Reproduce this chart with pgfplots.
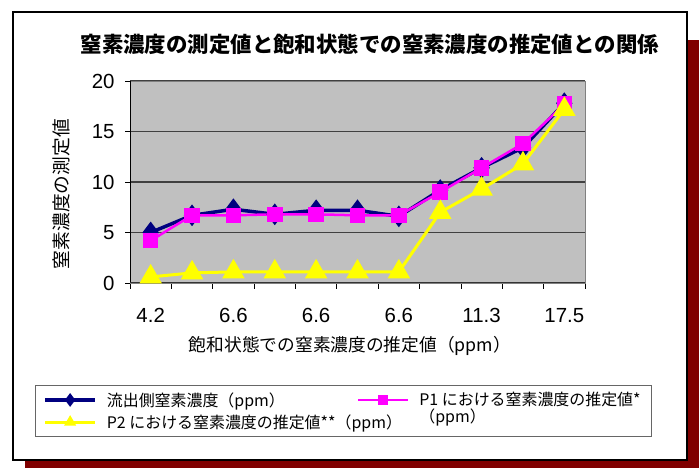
\documentclass[border=0pt]{standalone}
\usepackage{pgfplots}
\pgfplotsset{compat=1.18}
\usepackage{fontspec}
\setmainfont{Liberation Sans}
\newfontfamily\cjk{Noto Sans CJK JP}
\definecolor{navyc}{RGB}{0,0,128}
\definecolor{magc}{RGB}{255,0,255}
\definecolor{yelc}{RGB}{255,255,0}
\definecolor{bggray}{RGB}{192,192,192}
\definecolor{shadowc}{RGB}{128,0,0}
\begin{document}
\begin{tikzpicture}[x=1bp,y=1bp]
\path[use as bounding box] (0,0) rectangle (699,468);
\fill[shadowc] (25,0) rectangle (699,428);
\filldraw[fill=white, draw=black, line width=2bp] (13,8) rectangle (687,456);
\begin{axis}[
  at={(130bp,185bp)}, anchor=south west,
  width=455bp, height=202bp, scale only axis,
  xmin=-0.5, xmax=10.5, ymin=0, ymax=20,
  axis background/.style={fill=bggray},
  axis line style={black!50, line width=0.8bp},
  xtick={0,2,...,10},
  xticklabels={4.2,6.6,6.6,6.6,11.3,17.5},
  minor xtick={-0.5,0.5,...,10.5},
  every major x tick/.append style={draw=none},
  ytick={0,5,...,20},
  tick pos=left, tick align=outside,
  major tick length=5bp, minor tick length=6bp,
  tick style={black, line width=0.8bp},
  ymajorgrids, major grid style={black!75, line width=1.2bp},
  tick label style={font=\fontsize{20.5}{21}\selectfont},
  /pgf/number format/assume math mode=true,
  xticklabel style={yshift=-17bp},
  yticklabel style={xshift=-7bp},
  title={\cjk\bfseries 窒素濃度の測定値と飽和状態での窒素濃度の推定値との関係},
  title style={at={(axis description cs:0.527,1.15)}, anchor=center, font=\fontsize{21.5}{23}\selectfont},
  xlabel={\cjk 飽和状態での窒素濃度の推定値（ppm）},
  xlabel style={at={(axis description cs:0.4835,-0.31)}, anchor=center, font=\fontsize{17.8}{19}\selectfont},
  ylabel={\cjk 窒素濃度の測定値},
  ylabel style={at={(axis description cs:-0.15,0.44)}, anchor=center, font=\fontsize{18.8}{20}\selectfont},
  legend columns=2,
  legend cell align=left,
  legend style={at={(axis description cs:-0.2088,-0.505)}, anchor=north west,
    draw=black!60, line width=0.8bp, fill=white,
    font=\cjk\fontsize{16}{18}\selectfont,
    inner xsep=8bp, inner ysep=5bp, /tikz/row sep=3bp,
    /tikz/every even column/.append style={column sep=6bp}},
  legend image code/.code={\draw[mark repeat=2,mark phase=2,#1,mark size=4bp] plot coordinates {(0bp,0bp) (25bp,0bp) (50bp,0bp)};},
]
\draw[black, line width=1.2bp] (rel axis cs:0,0) -- (rel axis cs:0,1);
\draw[black!80, line width=1.2bp] (rel axis cs:0,0) -- (rel axis cs:1,0);
\addplot[navyc, line width=3.5bp, mark=diamond*, mark size=8bp, mark options={solid, fill=navyc, draw=navyc}]
 coordinates {(0,5.0) (1,6.7) (2,7.3) (3,6.8) (4,7.2) (5,7.2) (6,6.6) (7,9.2) (8,11.4) (9,13.4) (10,17.8)};
\addlegendentry{\makebox[250bp][l]{\hspace{8bp}流出側窒素濃度（ppm）}}
\addplot[magc, line width=2.5bp, mark=square*, mark size=6.5bp, mark options={solid, fill=magc, draw=magc}]
 coordinates {(0,4.2) (1,6.7) (2,6.7) (3,6.8) (4,6.8) (5,6.7) (6,6.7) (7,9.0) (8,11.4) (9,13.8) (10,17.7)};
\addlegendentry{\makebox[230bp][l]{\hspace{8bp}\rlap{\raisebox{-17bp}[0pt][0pt]{（ppm）}}P1 における窒素濃度の推定値*}}
\addplot[yelc, line width=3bp, mark=triangle*, mark size=10bp, mark options={solid, fill=yelc, draw=yelc}]
 coordinates {(0,0.6) (1,1.0) (2,1.1) (3,1.1) (4,1.1) (5,1.1) (6,1.1) (7,7.0) (8,9.3) (9,11.8) (10,17.2)};
\addlegendentry{\makebox[250bp][l]{\hspace{8bp}P2 における窒素濃度の推定値**（ppm）}}
\end{axis}
\end{tikzpicture}
\end{document}
